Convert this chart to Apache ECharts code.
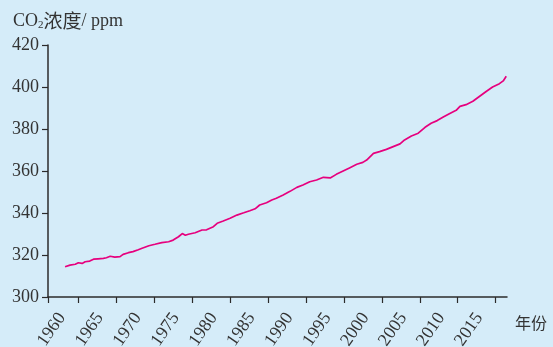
<!DOCTYPE html>
<html>
<head>
<meta charset="utf-8">
<script src="https://cdn.jsdelivr.net/npm/echarts@6/dist/echarts.min.js"></script>
<style>
  html, body { margin: 0; padding: 0; background: #d5ecf9; }
  #chart { width: 553px; height: 347px; }
</style>
</head>
<body>
<div id="chart"></div>
<script>
// Mauna Loa style CO2 record (deseasonalised), year and concentration in ppm
const years = [
  1958.25, 1958.9, 1959.6, 1960.0, 1960.5, 1960.9, 1961.5, 1962.0, 1962.6, 1963.3,
  1963.7, 1964.2, 1964.8, 1965.5, 1965.9, 1966.6, 1967.2, 1967.9, 1968.4, 1969.3,
  1970.1, 1971.0, 1971.9, 1972.5, 1973.2, 1973.7, 1974.1, 1974.5, 1975.4, 1976.3,
  1976.9, 1977.8, 1978.3, 1979.1, 1980.0, 1980.9, 1981.8, 1982.6, 1983.3, 1983.9,
  1984.8, 1985.5, 1986.1, 1987.0, 1987.9, 1988.8, 1989.6, 1990.5, 1991.4, 1992.3,
  1993.2, 1994.0, 1994.9, 1995.8, 1996.7, 1997.5, 1998.0, 1998.9, 1999.7, 2000.6,
  2001.5, 2002.4, 2003.0, 2003.9, 2004.8, 2005.7, 2006.5, 2007.3, 2008.1, 2008.9,
  2009.8, 2010.3, 2011.1, 2012.0, 2012.9, 2013.8, 2014.6, 2015.5, 2016.0, 2016.4
];
const co2 = [
  314.4, 315.2, 315.6, 316.3, 316.0, 316.8, 317.1, 318.0, 318.2, 318.4,
  318.7, 319.4, 319.0, 319.2, 320.3, 321.1, 321.6, 322.5, 323.2, 324.4,
  325.1, 325.9, 326.3, 327.1, 328.7, 330.2, 329.4, 329.9, 330.6, 331.9,
  332.0, 333.5, 335.1, 336.2, 337.5, 339.0, 340.1, 341.1, 342.0, 343.8,
  344.9, 346.2, 347.0, 348.6, 350.3, 352.2, 353.3, 354.9, 355.7, 357.0,
  356.7, 358.4, 360.0, 361.6, 363.2, 364.1, 365.2, 368.4, 369.2, 370.3,
  371.6, 372.9, 374.8, 376.7, 378.0, 380.8, 382.7, 384.0, 385.7, 387.3,
  388.9, 390.8, 391.6, 393.2, 395.6, 398.0, 400.0, 401.6, 402.9, 405.1
];
const yearTicks = [1960, 1965, 1970, 1975, 1980, 1985, 1990, 1995, 2000, 2005, 2010, 2015];
const yTicks = [300, 320, 340, 360, 380, 400, 420];

const axisColor = '#2b2b2b';
const textColor = '#333333';
const serif = '"Liberation Serif", "DejaVu Serif", serif';
const cjk = '"Noto Sans CJK SC", sans-serif';

const chart = echarts.init(document.getElementById('chart'), null, { renderer: 'canvas' });

chart.setOption({
  backgroundColor: '#d5ecf9',
  animation: false,
  title: {
    left: 8,
    top: 6,
    text: '{a|CO}{s|2}{c|浓度}{a|/ ppm}',
    textStyle: {
      fontWeight: 'normal',
      rich: {
        a: { fontFamily: serif, fontSize: 18, fontWeight: 'normal', color: textColor },
        s: { fontFamily: serif, fontSize: 11, fontWeight: 'normal', color: textColor, padding: [9, 0, 0, 0] },
        c: { fontFamily: cjk, fontSize: 19, fontWeight: 'normal', color: textColor }
      }
    }
  },
  grid: { left: 48, right: 46, top: 45, bottom: 50, containLabel: false, outerBoundsMode: 'none' },
  xAxis: {
    type: 'value',
    min: 1956,
    max: 2016.5,
    name: '年份',
    nameLocation: 'end',
    nameGap: 8,
    nameTextStyle: {
      fontFamily: cjk, fontSize: 16, color: textColor,
      verticalAlign: 'top', padding: [18, 0, 0, 0]
    },
    axisLine: { show: true, lineStyle: { color: axisColor, width: 1.5 } },
    axisTick: {
      show: true, length: 6, inside: false,
      customValues: [1956].concat(yearTicks),
      lineStyle: { color: axisColor, width: 1.2 }
    },
    axisLabel: {
      customValues: yearTicks,
      rotate: 55,
      margin: 17,
      color: textColor,
      formatter: v => '{y|' + v + '}',
      rich: {
        y: { fontFamily: serif, fontSize: 18, color: textColor, padding: [0, 10, 26, 0] }
      }
    },
    splitLine: { show: false }
  },
  yAxis: {
    type: 'value',
    min: 300,
    max: 420,
    interval: 20,
    axisLine: { show: true, lineStyle: { color: axisColor, width: 1.5 } },
    axisTick: { show: true, length: 6, inside: false, lineStyle: { color: axisColor, width: 1.2 } },
    axisLabel: {
      margin: 9,
      fontFamily: serif,
      fontSize: 18,
      color: textColor,
      formatter: v => (yTicks.includes(v) ? String(v) : '')
    },
    splitLine: { show: false }
  },
  series: [{
    type: 'line',
    data: years.map((y, i) => [y, co2[i]]),
    showSymbol: false,
    smooth: false,
    lineStyle: { color: '#e6007e', width: 1.7 },
    itemStyle: { color: '#e6007e' }
  }]
});
</script>
</body>
</html>
